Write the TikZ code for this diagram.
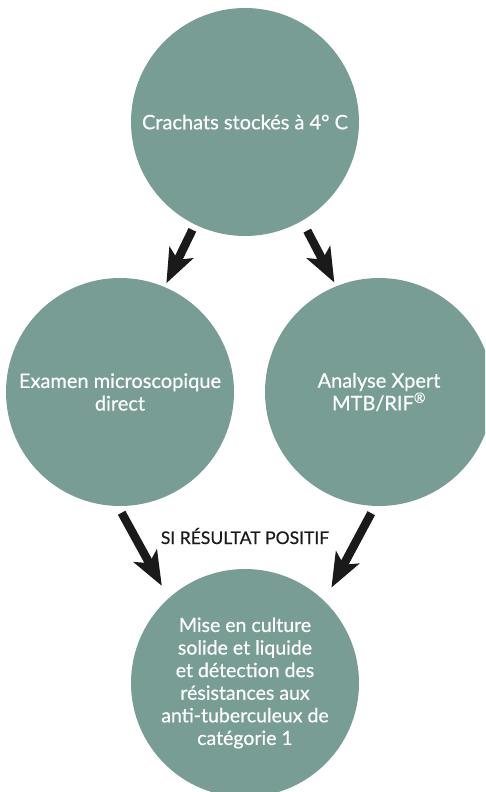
\documentclass[tikz,border=0pt]{standalone}
\usepackage{fontspec}
\setmainfont{Lato}[FakeBold=0.5]
\usetikzlibrary{arrows.meta}
\definecolor{teal}{HTML}{789D95}
\definecolor{arrowc}{HTML}{1A1A1A}
\tikzset{
  bubble/.style={circle, fill=teal, minimum size=228pt, inner sep=0pt, text=white, align=center, font=\fontsize{20}{22.6}\selectfont},
  flow/.style={draw=arrowc, line width=8.5pt, -{Stealth[length=34pt,width=26pt,inset=8pt]}},
  lbl/.style={text=arrowc, font=\fontsize{17.5}{20}\selectfont}
}
\begin{document}
\begin{tikzpicture}[x=1pt,y=-1pt]
\useasboundingbox (0,0) rectangle (485,792);
\clip (0,0) rectangle (485,792);
\node[bubble] (top) at (245,122) {Crachats stockés à 4° C};
\node[bubble] (left) at (120,392) {Examen microscopique\\direct};
\node[bubble] (right) at (379,392) {Analyse Xpert\\MTB/RIF\textsuperscript{®}};
\node[bubble, font=\fontsize{19.5}{22.6}\selectfont] (bot) at (245,683) {Mise en culture\\solide et liquide\\et détection des\\résistances aux\\anti-tuberculeux de\\catégorie 1};
\node[lbl] (si) at (245,536) {SI RÉSULTAT POSITIF};
\draw[flow, shorten <=5.8pt, shorten >=4pt] (top.244.3) -- (left.67.2);
\draw[flow, shorten <=11pt, shorten >=4pt] (top.300.8) -- (right.112.8);
\draw[flow, shorten <=7.5pt, shorten >=14pt] (left.269.2) -- (bot.132.9);
\draw[flow, shorten <=8pt, shorten >=15pt] (right.268) -- (bot.46.5);
\end{tikzpicture}
\end{document}
